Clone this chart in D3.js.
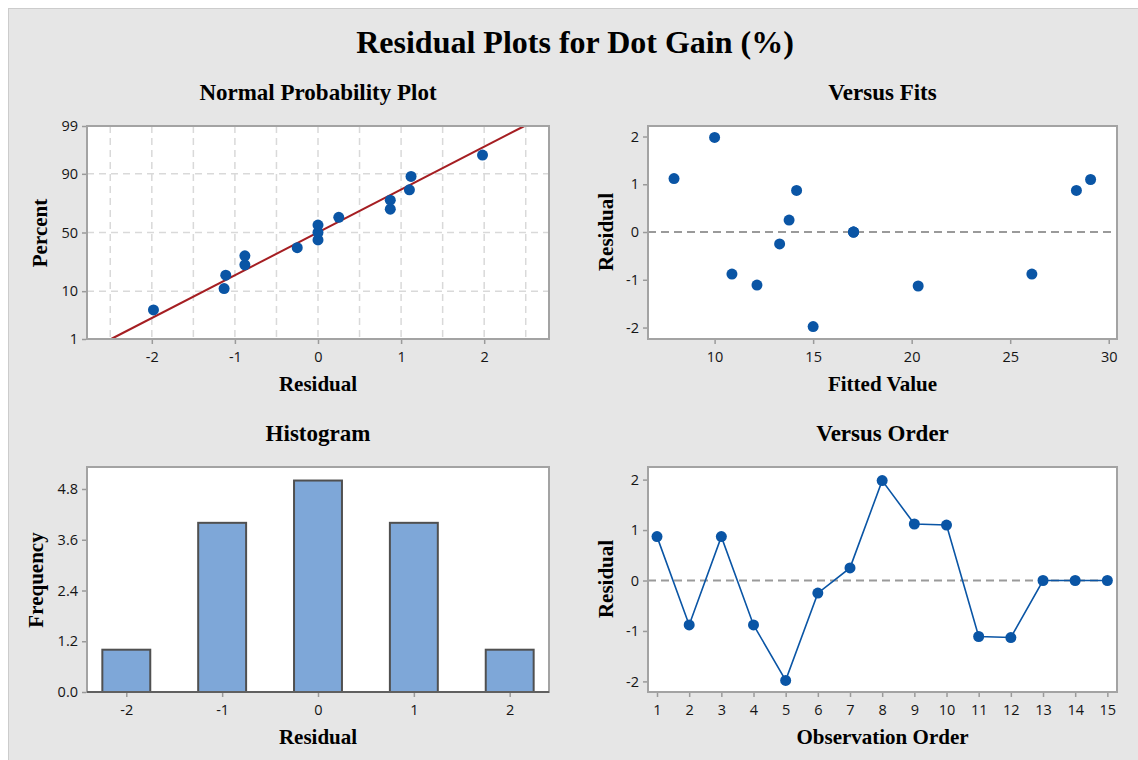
<!DOCTYPE html>
<html>
<head>
<meta charset="utf-8">
<script src="https://cdn.jsdelivr.net/npm/d3@7"></script>
<style>
  html, body { margin: 0; padding: 0; background: #ffffff; }
  svg { display: block; }
</style>
</head>
<body>
<svg id="chart" width="1138" height="760"></svg>
<script>
// ---------------- DATA ----------------
const observationOrder = [1, 2, 3, 4, 5, 6, 7, 8, 9, 10, 11, 12, 13, 14, 15];
const residuals = [0.87, -0.88, 0.87, -0.88, -1.98, -0.25, 0.25, 1.98, 1.12, 1.10, -1.11, -1.13, 0, 0, 0];
const fittedValues = [14.16, 10.88, 28.36, 26.10, 15.00, 13.30, 13.78, 10.00, 7.94, 29.08, 12.15, 20.33, 17.05, 17.05, 17.05];
const histCenters = [-2, -1, 0, 1, 2];
const histCounts = [1, 4, 5, 4, 1];

const nppXTicks = [-2, -1, 0, 1, 2];
const nppYTicks = [1, 10, 50, 90, 99];
const nppGridX = [-2.5, -2, -1.5, -1, -0.5, 0, 0.5, 1, 1.5, 2, 2.5];
const nppGridY = [10, 50, 90];
const fitsXTicks = [10, 15, 20, 25, 30];
const residTicks = [-2, -1, 0, 1, 2];
const histYTicks = ["0.0", "1.2", "2.4", "3.6", "4.8"];
const histXTicks = [-2, -1, 0, 1, 2];

const mainTitle = "Residual Plots for Dot Gain (%)";

// ---------------- HELPERS ----------------
// inverse standard normal CDF (Acklam)
function qnorm(p) {
  const a = [-3.969683028665376e+01, 2.209460984245205e+02, -2.759285104469687e+02, 1.383577518672690e+02, -3.066479806614716e+01, 2.506628277459239e+00];
  const b = [-5.447609879822406e+01, 1.615858368580409e+02, -1.556989798598866e+02, 6.680131188771972e+01, -1.328068155288572e+01];
  const c = [-7.784894002430293e-03, -3.223964580411365e-01, -2.400758277161838e+00, -2.549732539343734e+00, 4.374664141464968e+00, 2.938163982698783e+00];
  const d = [7.784695709041462e-03, 3.224671290700398e-01, 2.445134137142996e+00, 3.754408661907416e+00];
  const pl = 0.02425, ph = 1 - pl;
  let q, r;
  if (p < pl) {
    q = Math.sqrt(-2 * Math.log(p));
    return (((((c[0]*q+c[1])*q+c[2])*q+c[3])*q+c[4])*q+c[5]) / ((((d[0]*q+d[1])*q+d[2])*q+d[3])*q+1);
  } else if (p <= ph) {
    q = p - 0.5; r = q*q;
    return (((((a[0]*r+a[1])*r+a[2])*r+a[3])*r+a[4])*r+a[5])*q / (((((b[0]*r+b[1])*r+b[2])*r+b[3])*r+b[4])*r+1);
  } else {
    q = Math.sqrt(-2 * Math.log(1 - p));
    return -(((((c[0]*q+c[1])*q+c[2])*q+c[3])*q+c[4])*q+c[5]) / ((((d[0]*q+d[1])*q+d[2])*q+d[3])*q+1);
  }
}

const SERIF = "'Liberation Serif', 'Times New Roman', serif";
const SANS = "'Open Sans', 'Noto Sans', sans-serif";
const BLUE = "#0a55a5";
const FRAME = "#a3a3a3";
const TEXT = "#151515";
const plain = d => String(d);

const svg = d3.select("#chart");

// background
svg.append("rect").attr("x", 8.5).attr("y", 8.5).attr("width", 1140).attr("height", 760)
  .attr("fill", "#e6e6e6").attr("stroke", "#cccccc").attr("stroke-width", 1);

svg.append("text").attr("x", 575).attr("y", 53).attr("text-anchor", "middle")
  .attr("font-family", SERIF).attr("font-weight", "bold").attr("font-size", 32)
  .attr("fill", "#000").text(mainTitle);

function panel(box, title, xTitle, yTitle, yTitleX, yTitleCy) {
  const g = svg.append("g");
  const cx = (box.l + box.r) / 2;
  g.append("rect").attr("x", box.l).attr("y", box.t).attr("width", box.r - box.l).attr("height", box.b - box.t)
    .attr("fill", "#ffffff");
  g.append("text").attr("x", cx).attr("y", box.t - 26).attr("text-anchor", "middle")
    .attr("font-family", SERIF).attr("font-weight", "bold").attr("font-size", 23).attr("fill", "#000").text(title);
  g.append("text").attr("x", cx).attr("y", box.b + 52).attr("text-anchor", "middle")
    .attr("font-family", SERIF).attr("font-weight", "bold").attr("font-size", 21).attr("fill", "#000").text(xTitle);
  g.append("text").attr("transform", `translate(${yTitleX},${yTitleCy}) rotate(-90)`).attr("text-anchor", "middle")
    .attr("font-family", SERIF).attr("font-weight", "bold").attr("font-size", 21).attr("fill", "#000").text(yTitle);
  return g;
}

function drawFrame(g, box, bottomColor) {
  g.append("rect").attr("x", box.l).attr("y", box.t).attr("width", box.r - box.l).attr("height", box.b - box.t)
    .attr("fill", "none").attr("stroke", FRAME).attr("stroke-width", 2);
  if (bottomColor) {
    g.append("line").attr("x1", box.l).attr("x2", box.r).attr("y1", box.b).attr("y2", box.b)
      .attr("stroke", bottomColor).attr("stroke-width", 2);
  }
}

function styleAxis(sel) {
  sel.select(".domain").remove();
  sel.selectAll(".tick line").attr("stroke", "#9a9a9a").attr("stroke-width", 1.5);
  sel.selectAll(".tick text").attr("font-family", SANS).attr("font-size", 14.5).attr("fill", TEXT);
}

function xAxis(g, box, scale, ticks, fmt) {
  const ax = d3.axisBottom(scale).tickValues(ticks).tickSize(4).tickPadding(8).tickFormat(fmt || plain);
  g.append("g").attr("transform", `translate(0,${box.b + 1})`).call(ax).call(styleAxis);
}
function yAxis(g, box, scale, ticks, fmt) {
  const ax = d3.axisLeft(scale).tickValues(ticks).tickSize(4).tickPadding(4).tickFormat(fmt || plain);
  g.append("g").attr("transform", `translate(${box.l - 1},0)`).call(ax).call(styleAxis);
}

// ---------------- NORMAL PROBABILITY PLOT ----------------
{
  const box = { l: 87, r: 549, t: 126, b: 339 };
  const g = panel(box, "Normal Probability Plot", "Residual", "Percent", 46.5, 233);
  const x = d3.scaleLinear().domain([-2.78, 2.78]).range([box.l, box.r]);
  const y = d3.scaleLinear().domain([qnorm(0.01), qnorm(0.99)]).range([box.b, box.t]);

  g.selectAll(".gx").data(nppGridX).join("line")
    .attr("x1", d => x(d)).attr("x2", d => x(d)).attr("y1", box.t).attr("y2", box.b)
    .attr("stroke", "#d9d9d9").attr("stroke-width", 1.5).attr("stroke-dasharray", "7,5");
  g.selectAll(".gy").data(nppGridY).join("line")
    .attr("x1", box.l).attr("x2", box.r).attr("y1", d => y(qnorm(d / 100))).attr("y2", d => y(qnorm(d / 100)))
    .attr("stroke", "#d9d9d9").attr("stroke-width", 1.5).attr("stroke-dasharray", "7,5");

  const n = residuals.length;
  const sorted = residuals.slice().sort(d3.ascending);
  const pts = sorted.map((r, i) => ({ r, p: (i + 1 - 0.3) / (n + 0.4) }));
  const mean = d3.mean(residuals), sd = d3.deviation(residuals);

  // fitted line from 1% to 99%
  const zLo = qnorm(0.01), zHi = qnorm(0.99);
  g.append("line")
    .attr("x1", x(mean + sd * zLo)).attr("y1", y(zLo))
    .attr("x2", x(mean + sd * zHi)).attr("y2", y(zHi))
    .attr("stroke", "#a51e22").attr("stroke-width", 2);

  g.selectAll(".pt").data(pts).join("circle")
    .attr("cx", d => x(d.r)).attr("cy", d => y(qnorm(d.p))).attr("r", 5.5).attr("fill", BLUE);

  drawFrame(g, box);
  xAxis(g, box, x, nppXTicks);
  const ax = d3.axisLeft(y).tickValues(nppYTicks.map(v => qnorm(v / 100))).tickSize(4).tickPadding(4)
    .tickFormat((d, i) => String(nppYTicks[i]));
  g.append("g").attr("transform", `translate(${box.l - 1},0)`).call(ax).call(styleAxis);
}

// ---------------- VERSUS FITS ----------------
{
  const box = { l: 648, r: 1117, t: 126, b: 339 };
  const g = panel(box, "Versus Fits", "Fitted Value", "Residual", 612.5, 232);
  const x = d3.scaleLinear().domain([6.62, 30.42]).range([box.l, box.r]);
  const y = d3.scaleLinear().domain([-2.24, 2.22]).range([box.b, box.t]);

  g.append("line").attr("x1", box.l).attr("x2", box.r).attr("y1", y(0)).attr("y2", y(0))
    .attr("stroke", "#9a9a9a").attr("stroke-width", 2).attr("stroke-dasharray", "8,5");

  g.selectAll(".pt").data(residuals).join("circle")
    .attr("cx", (d, i) => x(fittedValues[i])).attr("cy", d => y(d)).attr("r", 5.5).attr("fill", BLUE);

  drawFrame(g, box);
  xAxis(g, box, x, fitsXTicks);
  yAxis(g, box, y, residTicks);
}

// ---------------- HISTOGRAM ----------------
{
  const box = { l: 87, r: 549, t: 467, b: 692 };
  const g = panel(box, "Histogram", "Residual", "Frequency", 42.5, 580);
  const x = d3.scaleLinear().domain([-2.41, 2.41]).range([box.l, box.r]);
  const y = d3.scaleLinear().domain([0, 5.32]).range([box.b, box.t]);
  const half = 0.25;

  g.selectAll(".bar").data(histCounts).join("rect")
    .attr("x", (d, i) => x(histCenters[i] - half)).attr("width", (d, i) => x(histCenters[i] + half) - x(histCenters[i] - half))
    .attr("y", d => y(d)).attr("height", d => y(0) - y(d))
    .attr("fill", "#7ea7d8").attr("stroke", "#505050").attr("stroke-width", 2);

  drawFrame(g, box, "#606060");
  xAxis(g, box, x, histXTicks);
  yAxis(g, box, y, histYTicks.map(Number), d3.format(".1f"));
}

// ---------------- VERSUS ORDER ----------------
{
  const box = { l: 648, r: 1117, t: 467, b: 692 };
  const g = panel(box, "Versus Order", "Observation Order", "Residual", 612.5, 579);
  const x = d3.scaleLinear().domain([0.72, 15.3]).range([box.l, box.r]);
  const y = d3.scaleLinear().domain([-2.21, 2.25]).range([box.b, box.t]);

  g.append("line").attr("x1", box.l).attr("x2", box.r).attr("y1", y(0)).attr("y2", y(0))
    .attr("stroke", "#9a9a9a").attr("stroke-width", 2).attr("stroke-dasharray", "8,5");

  const line = d3.line().x((d, i) => x(observationOrder[i])).y(d => y(d));
  g.append("path").datum(residuals).attr("d", line).attr("fill", "none")
    .attr("stroke", BLUE).attr("stroke-width", 1.6);
  g.selectAll(".pt").data(residuals).join("circle")
    .attr("cx", (d, i) => x(observationOrder[i])).attr("cy", d => y(d)).attr("r", 5.5).attr("fill", BLUE);

  drawFrame(g, box);
  xAxis(g, box, x, observationOrder);
  yAxis(g, box, y, residTicks);
}
</script>
</body>
</html>
